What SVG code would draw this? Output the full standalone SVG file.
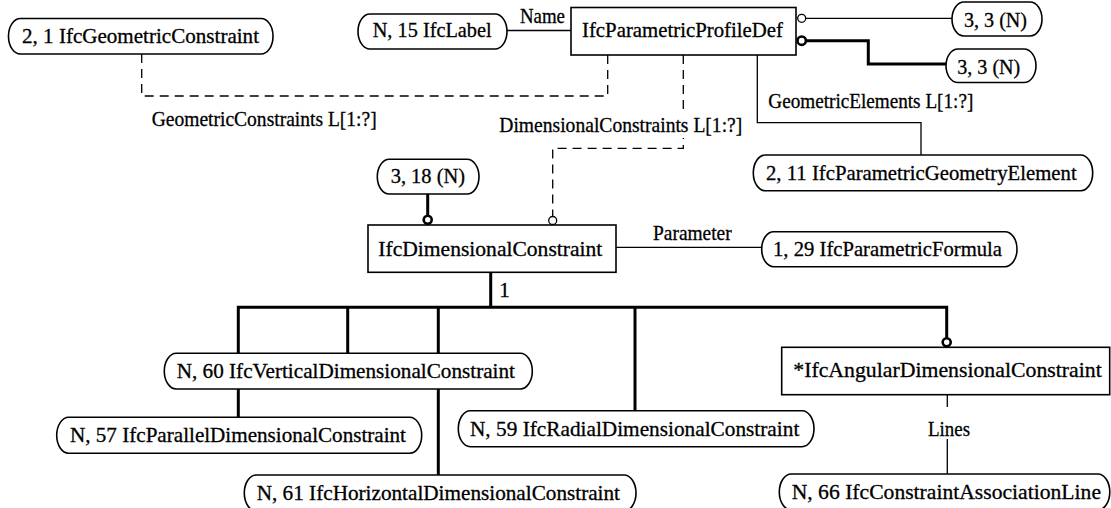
<svg xmlns="http://www.w3.org/2000/svg" width="1111" height="508" viewBox="0 0 1111 508" font-family="'Liberation Serif', 'DejaVu Serif', serif">
<style>
text{font-family:'Liberation Serif','DejaVu Serif',serif;font-size:21px;fill:#000;stroke:#000;stroke-width:0.3}
.pill,.box{fill:#fff;stroke:#000;stroke-width:1.6}
.thin{fill:none;stroke:#000;stroke-width:1.3}
.thick{fill:none;stroke:#000;stroke-width:3}
.dash{fill:none;stroke:#000;stroke-width:1.3;stroke-dasharray:9 6}
.oc{fill:#fff;stroke:#000;stroke-width:1.3}
.ocb{fill:#fff;stroke:#000;stroke-width:2.6}
.bg{fill:#fff}
</style>
<rect width="1111" height="508" fill="#fff"/>
<g id="connectors">
<path class="dash" d="M141.7,54 V96 H607.7 V55"/>
<path class="dash" d="M683.3,55 V148.3 H552.7 V216.5"/>
<path class="thin" d="M507,30.5 H571"/>
<path class="thin" d="M805.7,18.3 H952"/>
<path class="thick" d="M806.5,40.7 H868.3 V64 H946"/>
<path class="thin" d="M757.3,55 V122.7 H921 V155"/>
<path class="thick" d="M427.7,194 V215"/>
<path class="thin" d="M616,247.3 H761.7"/>
<path class="thick" d="M490.7,272.3 V307.3"/>
<path class="thick" d="M238.3,353.3 V307.3 H946.7 V337.8"/>
<path class="thick" d="M347.7,307.3 V353.3"/>
<path class="thick" d="M438.3,307.3 V353.3"/>
<path class="thick" d="M635,307.3 V410.7"/>
<path class="thick" d="M238.3,389 V417.3"/>
<path class="thick" d="M438.3,389 V475"/>
<path class="thin" d="M947.3,394.7 V474"/>
<circle class="oc" cx="801.7" cy="18.3" r="4"/>
<circle class="ocb" cx="801.7" cy="40.7" r="4.2"/>
<circle class="ocb" cx="427.7" cy="219.8" r="4"/>
<circle class="oc" cx="552.7" cy="220.5" r="4"/>
<circle class="ocb" cx="946.7" cy="342.3" r="4"/>
<rect class="bg" x="497" y="114" width="248" height="24"/>
<text x="499.3" y="131.7" textLength="243" lengthAdjust="spacingAndGlyphs">DimensionalConstraints L[1:?]</text>
<text x="151.7" y="126" textLength="225" lengthAdjust="spacingAndGlyphs">GeometricConstraints L[1:?]</text>
<text x="768.3" y="108.3" textLength="205" lengthAdjust="spacingAndGlyphs">GeometricElements L[1:?]</text>
<text x="520" y="22.7" textLength="45" lengthAdjust="spacingAndGlyphs">Name</text>
<text x="653" y="240" textLength="78.7" lengthAdjust="spacingAndGlyphs">Parameter</text>
<text x="499.3" y="296.7">1</text>
<rect class="bg" x="925" y="407" width="48" height="32"/>
<text x="928" y="435.7" textLength="42" lengthAdjust="spacingAndGlyphs">Lines</text>
</g>
<g id="n1"><rect class="pill" x="8.5" y="18.5" width="264.5" height="35.5" rx="12" ry="17.5"/><text x="22" y="43" textLength="237" lengthAdjust="spacingAndGlyphs">2, 1 IfcGeometricConstraint</text></g>
<g id="n2"><rect class="pill" x="358" y="14" width="149" height="35" rx="12" ry="17.5"/><text x="372.7" y="37.3" textLength="119" lengthAdjust="spacingAndGlyphs">N, 15 IfcLabel</text></g>
<g id="n3"><rect class="box" x="571" y="7.5" width="225" height="47.5"/><text x="582" y="37.3" textLength="201" lengthAdjust="spacingAndGlyphs">IfcParametricProfileDef</text></g>
<g id="n4"><rect class="pill" x="952" y="2" width="90" height="34" rx="12" ry="17"/><text x="964" y="27" textLength="63" lengthAdjust="spacingAndGlyphs">3, 3 (N)</text></g>
<g id="n5"><rect class="pill" x="946" y="49" width="90" height="33.5" rx="12" ry="16.7"/><text x="957.3" y="73.5" textLength="63" lengthAdjust="spacingAndGlyphs">3, 3 (N)</text></g>
<g id="n6"><rect class="pill" x="753.3" y="155" width="339.4" height="35.7" rx="12" ry="17.8"/><text x="766" y="180" textLength="310.7" lengthAdjust="spacingAndGlyphs">2, 11 IfcParametricGeometryElement</text></g>
<g id="n7"><rect class="pill" x="377.3" y="159.3" width="101.7" height="34.7" rx="12" ry="17.3"/><text x="390.7" y="183.3" textLength="74.3" lengthAdjust="spacingAndGlyphs">3, 18 (N)</text></g>
<g id="n8"><rect class="box" x="368" y="225" width="248" height="47.3"/><text x="378.3" y="255.5" textLength="224" lengthAdjust="spacingAndGlyphs">IfcDimensionalConstraint</text></g>
<g id="n9"><rect class="pill" x="761.7" y="231.7" width="255.3" height="35" rx="12" ry="17.5"/><text x="773" y="255.5" textLength="229" lengthAdjust="spacingAndGlyphs">1, 29 IfcParametricFormula</text></g>
<g id="n10"><rect class="pill" x="164.3" y="353.3" width="368" height="35.7" rx="12" ry="17.8"/><text x="176.7" y="378" textLength="338.3" lengthAdjust="spacingAndGlyphs">N, 60 IfcVerticalDimensionalConstraint</text></g>
<g id="n11"><rect class="pill" x="56.7" y="417.3" width="365" height="36" rx="12" ry="18"/><text x="70" y="442.3" textLength="336" lengthAdjust="spacingAndGlyphs">N, 57 IfcParallelDimensionalConstraint</text></g>
<g id="n12"><rect class="pill" x="244.3" y="475" width="391.7" height="36" rx="12" ry="18"/><text x="256.7" y="499.5" textLength="363.3" lengthAdjust="spacingAndGlyphs">N, 61 IfcHorizontalDimensionalConstraint</text></g>
<g id="n13"><rect class="pill" x="458.3" y="410.7" width="355.7" height="36" rx="12" ry="18"/><text x="470" y="435.7" textLength="329.3" lengthAdjust="spacingAndGlyphs">N, 59 IfcRadialDimensionalConstraint</text></g>
<g id="n14"><rect class="box" x="781.7" y="347.3" width="328" height="47.4"/><text x="793.3" y="377.3" textLength="308.4" lengthAdjust="spacingAndGlyphs">*IfcAngularDimensionalConstraint</text></g>
<g id="n15"><rect class="pill" x="779.3" y="474" width="330.5" height="36" rx="12" ry="18"/><text x="791.7" y="499" textLength="309.3" lengthAdjust="spacingAndGlyphs">N, 66 IfcConstraintAssociationLine</text></g>
</svg>
